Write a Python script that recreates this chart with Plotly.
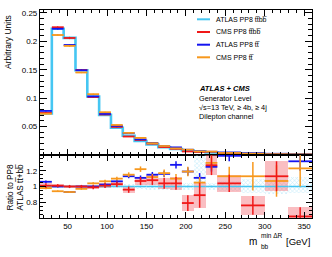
import plotly.graph_objects as go

# ---------------- data ----------------
bin_edges = [15, 30, 45, 60, 75, 90, 105, 120, 135, 150, 165, 180, 195, 210, 225, 240, 270, 300, 330, 360]

# main panel (normalised distributions)
atlas_ttbb = [0.073, 0.222, 0.206, 0.149, 0.103, 0.0705, 0.048, 0.0338, 0.0247, 0.0185, 0.0135, 0.0105, 0.0078, 0.006, 0.0045, 0.0032, 0.0021, 0.0014, 0.0009]
cms_ttbb   = [0.0738, 0.2245, 0.2058, 0.1495, 0.102, 0.0712, 0.0494, 0.0325, 0.0264, 0.020, 0.014, 0.0109, 0.0062, 0.0053, 0.0057, 0.0033, 0.0016, 0.0016, 0.0006]
atlas_tt   = [0.0775, 0.222, 0.1935, 0.149, 0.103, 0.0723, 0.0512, 0.0384, 0.0275, 0.0213, 0.0157, 0.0134, 0.0093, 0.0067, 0.0056, 0.0045, 0.0032, 0.0022, 0.0012]
cms_tt     = [0.0725, 0.211, 0.192, 0.1451, 0.107, 0.0752, 0.0528, 0.0389, 0.0301, 0.0207, 0.0158, 0.0116, 0.0093, 0.0063, 0.0058, 0.0036, 0.0024, 0.0015, 0.0011]
cms_ttbb_err = [0.0015, 0.002, 0.002, 0.0015, 0.0012, 0.001, 0.0009, 0.0008, 0.0008, 0.0007, 0.0006, 0.0006, 0.0005, 0.0005, 0.0005, 0.0004, 0.0003, 0.0003, 0.0002]
atlas_tt_err = [0.0008, 0.0015, 0.0015, 0.0012, 0.001, 0.0008, 0.0006, 0.0005, 0.0004, 0.0004, 0.0003, 0.0003, 0.0003, 0.0003, 0.0002, 0.0002, 0.0002, 0.0002, 0.0001]
cms_tt_err   = [0.0008, 0.0015, 0.0015, 0.0012, 0.001, 0.0008, 0.0006, 0.0005, 0.0004, 0.0004, 0.0003, 0.0003, 0.0003, 0.0003, 0.0002, 0.0002, 0.0002, 0.0002, 0.0001]

# ratio panel (to ATLAS PP8 ttbb)
ratio_atlas_ttbb = [1.0] * 19
ratio_atlas_ttbb_up = [0.03, 0.02, 0.02, 0.02, 0.02, 0.02, 0.025, 0.03, 0.03, 0.04, 0.05, 0.05, 0.05, 0.42, 0.04, 0.07, 0.09, 0.1, 0.12]
ratio_atlas_ttbb_dn = [0.03, 0.02, 0.02, 0.02, 0.02, 0.02, 0.025, 0.03, 0.03, 0.04, 0.05, 0.05, 0.05, -0.03, 0.04, 0.06, 0.08, 0.1, 0.08]
ratio_cms_ttbb = [1.01, 1.01, 1.0, 1.0, 0.99, 1.01, 1.03, 0.96, 1.07, 1.08, 1.04, 1.04, 0.79, 0.89, 1.27, 1.04, 0.76, 1.13, 0.62]
ratio_cms_ttbb_err = [0.03, 0.02, 0.02, 0.02, 0.025, 0.03, 0.035, 0.04, 0.05, 0.06, 0.07, 0.08, 0.1, 0.16, 0.125, 0.11, 0.12, 0.19, 0.115]
ratio_atlas_tt = [1.06, 1.0, 0.93, 1.0, 1.0, 1.025, 1.066, 1.13, 1.11, 1.15, 1.16, 1.275, 1.19, 1.11, 1.25, 1.39, None, None, 1.32]
ratio_atlas_tt_err = [0.015, 0.01, 0.01, 0.01, 0.012, 0.015, 0.02, 0.025, 0.03, 0.035, 0.04, 0.045, 0.05, 0.06, 0.06, 0.07, 0.1, 0.1, 0.12]
ratio_cms_tt = [0.98, 0.94, 0.93, 0.97, 1.04, 1.066, 1.10, 1.15, 1.22, 1.12, 1.17, 1.10, 1.19, 1.05, 1.30, 1.13, 1.13, 1.07, 1.23]
ratio_cms_tt_err = [0.015, 0.01, 0.01, 0.012, 0.015, 0.02, 0.025, 0.03, 0.035, 0.04, 0.045, 0.06, 0.06, 0.07, 0.08, 0.12, 0.18, 0.2, 0.23]

main_yticks = [0.05, 0.1, 0.15, 0.2, 0.25]
main_yticktext = ["0.05", "0.1", "0.15", "0.2", "0.25"]
ratio_yticks = [0.8, 1.0, 1.2]
ratio_yticktext = ["0.8", "1", "1.2"]
xticks = [50, 100, 150, 200, 250, 300, 350]

labels = ["ATLAS PP8 tt\u0305bb\u0305", "CMS PP8 tt\u0305bb\u0305", "ATLAS PP8 tt\u0305", "CMS PP8 tt\u0305"]
info_lines = ["<b><i>ATLAS + CMS</i></b>", "Generator Level", "\u221As=13 TeV, \u2265 4b, \u2265 4j", "Dilepton channel"]

# ---------------- style ----------------
C_CYAN = "#45c6f2"
C_RED = "#f01818"
C_BLUE = "#1414f0"
C_ORANGE = "#f7981d"
FONT = "Liberation Sans, Arial, sans-serif"

W, H = 332, 257
ML, MR, MT, MB = 40, 20, 10, 39
PW, PH = W - ML - MR, H - MT - MB
RATIO_H = 63

def px_x(p):
    return (p - ML) / PW

def px_y(p):
    return (H - MB - p) / PH

centers = [(a + b) / 2 for a, b in zip(bin_edges[:-1], bin_edges[1:])]
widths = [b - a for a, b in zip(bin_edges[:-1], bin_edges[1:])]
halfw = [w / 2 for w in widths]

fig = go.Figure()

# ---- main panel ----
fig.add_trace(go.Scatter(x=bin_edges, y=atlas_ttbb + [atlas_ttbb[-1]], mode="lines",
                         line=dict(color=C_CYAN, width=2.6, shape="hv"),
                         xaxis="x", yaxis="y", showlegend=False, hoverinfo="skip"))

def main_series(vals, errs, color, fill):
    fig.add_trace(go.Bar(x=centers, width=widths, base=[v - e for v, e in zip(vals, errs)],
                         y=[2 * e for e in errs], marker=dict(color=fill, line=dict(width=0)),
                         xaxis="x", yaxis="y", showlegend=False, hoverinfo="skip"))
    fig.add_trace(go.Scatter(x=centers, y=vals, mode="markers", marker=dict(size=1, color=color),
                             error_x=dict(type="data", array=halfw, width=0, thickness=1.8, color=color),
                             error_y=dict(type="data", array=errs, width=0, thickness=1, color=color),
                             xaxis="x", yaxis="y", showlegend=False, hoverinfo="skip"))

main_series(cms_ttbb, cms_ttbb_err, C_RED, "rgba(240,80,90,0.35)")
main_series(atlas_tt, atlas_tt_err, C_BLUE, "rgba(60,60,240,0.35)")
main_series(cms_tt, cms_tt_err, C_ORANGE, "rgba(247,152,29,0.4)")

# ---- ratio panel ----
fig.add_trace(go.Bar(x=centers, width=widths,
                     base=[r - d for r, d in zip(ratio_atlas_ttbb, ratio_atlas_ttbb_dn)],
                     y=[u + d for u, d in zip(ratio_atlas_ttbb_up, ratio_atlas_ttbb_dn)],
                     marker=dict(color="rgba(0,0,0,0)", line=dict(width=0),
                                 pattern=dict(shape="x", fgcolor="#7fd6f5", bgcolor="rgba(0,0,0,0)",
                                              size=3, solidity=0.35)),
                     xaxis="x2", yaxis="y2", showlegend=False, hoverinfo="skip"))
fig.add_trace(go.Bar(x=centers, width=widths,
                     base=[r - e for r, e in zip(ratio_cms_ttbb, ratio_cms_ttbb_err)],
                     y=[2 * e for e in ratio_cms_ttbb_err],
                     marker=dict(color="rgba(245,110,120,0.45)", line=dict(width=0)),
                     xaxis="x2", yaxis="y2", showlegend=False, hoverinfo="skip"))

def ratio_series(vals, errs, color, th=1.8):
    fig.add_trace(go.Scatter(x=centers, y=vals, mode="markers", marker=dict(size=1, color=color),
                             error_x=dict(type="data", array=halfw, width=0, thickness=th, color=color),
                             error_y=dict(type="data", array=errs, width=0, thickness=1.5, color=color),
                             xaxis="x2", yaxis="y2", showlegend=False, hoverinfo="skip"))

ratio_series(ratio_atlas_ttbb, [0.01] * 19, C_CYAN, th=1.5)
ratio_series(ratio_atlas_tt, ratio_atlas_tt_err, C_BLUE)
ratio_series(ratio_cms_tt, ratio_cms_tt_err, C_ORANGE)
ratio_series(ratio_cms_ttbb, ratio_cms_ttbb_err, C_RED)

tickfont = dict(family=FONT, size=8, color="black")
common_x = dict(range=[bin_edges[0], bin_edges[-1]], showline=True, linecolor="black", linewidth=1.2,
                mirror="allticks", ticks="inside", ticklen=6, tickcolor="black", tickwidth=1,
                tickvals=xticks, ticktext=[str(v) for v in xticks],
                minor=dict(ticks="inside", ticklen=3, tickcolor="black", dtick=10, tick0=0),
                showgrid=False, zeroline=False, tickfont=tickfont)

rd = RATIO_H / PH
fig.update_layout(
    width=W, height=H, margin=dict(l=ML, r=MR, t=MT, b=MB),
    paper_bgcolor="white", plot_bgcolor="white", barmode="overlay", bargap=0,
    showlegend=False, font=dict(family=FONT, color="black"),
    xaxis=dict(**common_x, domain=[0, 1], anchor="y", showticklabels=False, matches="x2"),
    yaxis=dict(domain=[rd, 1], anchor="x", range=[0, 0.255], showline=True, linecolor="black",
               linewidth=1.2, mirror="allticks", ticks="inside", ticklen=7, tickcolor="black",
               tickvals=main_yticks, ticktext=main_yticktext,
               minor=dict(ticks="inside", ticklen=3.5, tickcolor="black", dtick=0.01, tick0=0),
               showgrid=False, zeroline=False, tickfont=tickfont),
    xaxis2=dict(**common_x, domain=[0, 1], anchor="y2"),
    yaxis2=dict(domain=[0, rd], anchor="x2", range=[0.6, 1.4], showline=True, linecolor="black",
                linewidth=1.2, mirror="allticks", ticks="inside", ticklen=6, tickcolor="black",
                tickvals=ratio_yticks, ticktext=ratio_yticktext,
                minor=dict(ticks="inside", ticklen=3, tickcolor="black", dtick=0.05, tick0=0),
                showgrid=False, zeroline=False, tickfont=tickfont),
)

ann = []
shapes = []
# legend
legend_colors = [C_CYAN, C_RED, C_BLUE, C_ORANGE]
legend_rows = [19.3, 32, 44.7, 57.3]
for lab, col, ry in zip(labels, legend_colors, legend_rows):
    shapes.append(dict(type="line", xref="paper", yref="paper", x0=px_x(197), x1=px_x(210),
                       y0=px_y(ry), y1=px_y(ry), line=dict(color=col, width=2)))
    ann.append(dict(text=lab, xref="paper", yref="paper", x=px_x(214), y=px_y(ry),
                    xanchor="left", yanchor="middle", showarrow=False,
                    font=dict(family=FONT, size=7, color="black")))
# info text
for txt, ry in zip(info_lines, [88.5, 98, 107.5, 117]):
    ann.append(dict(text=txt, xref="paper", yref="paper", x=px_x(197), y=px_y(ry),
                    xanchor="left", yanchor="middle", showarrow=False,
                    font=dict(family=FONT, size=7.3 if ry > 90 else 7.5, color="black")))
# axis titles
ann.append(dict(text="Arbitrary Units", xref="paper", yref="paper", x=px_x(8), y=px_y(42),
                xanchor="center", yanchor="middle", textangle=-90, showarrow=False,
                font=dict(family=FONT, size=8.5, color="black")))
ann.append(dict(text="Ratio to PP8<br>ATLAS tt\u0305+bb\u0305", xref="paper", yref="paper",
                x=px_x(15.5), y=px_y(187), xanchor="center", yanchor="middle", textangle=-90,
                showarrow=False, font=dict(family=FONT, size=8.2, color="black")))
ann.append(dict(text="m", xref="paper", yref="paper", x=px_x(258.5), y=px_y(241),
                xanchor="right", yanchor="middle", showarrow=False,
                font=dict(family=FONT, size=10, color="black")))
ann.append(dict(text="min \u0394R", xref="paper", yref="paper", x=px_x(259), y=px_y(235),
                xanchor="left", yanchor="middle", showarrow=False,
                font=dict(family=FONT, size=6.5, color="black")))
ann.append(dict(text="bb", xref="paper", yref="paper", x=px_x(259), y=px_y(246.5),
                xanchor="left", yanchor="middle", showarrow=False,
                font=dict(family=FONT, size=6.5, color="black")))
ann.append(dict(text="[GeV]", xref="paper", yref="paper", x=px_x(312), y=px_y(241),
                xanchor="right", yanchor="middle", showarrow=False,
                font=dict(family=FONT, size=9.5, color="black")))

fig.update_layout(annotations=ann, shapes=shapes)
fig.write_html("out.html", config={"displayModeBar": False},
               post_script="document.body.style.margin='0px';")
